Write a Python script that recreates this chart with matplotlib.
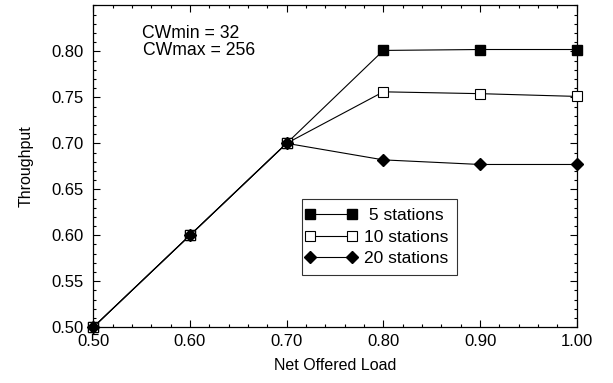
import matplotlib
matplotlib.use("Agg")
import matplotlib.pyplot as plt
from matplotlib.ticker import MultipleLocator, FormatStrFormatter
from matplotlib.legend_handler import HandlerLine2D

plt.rcParams['font.family'] = ['Liberation Sans', 'DejaVu Sans']

# data
load = [0.50, 0.60, 0.70, 0.80, 0.90, 1.00]
st5 = [0.500, 0.600, 0.700, 0.801, 0.802, 0.802]
st10 = [0.500, 0.600, 0.700, 0.756, 0.754, 0.751]
st20 = [0.500, 0.600, 0.700, 0.682, 0.677, 0.677]
labels = [' 5 stations', '10 stations', '20 stations']

fig = plt.figure(figsize=(6.13, 3.83), dpi=100)
ax = fig.add_axes([0.152, 0.1455, 0.789, 0.8405])

l5, = ax.plot(load, st5, color='black', lw=0.8, marker='s', ms=7.5,
              mfc='black', mec='black', label=labels[0], clip_on=False, zorder=3)
l10, = ax.plot(load, st10, color='black', lw=0.8, marker='s', ms=7.5,
               mfc='white', mec='black', mew=0.8, label=labels[1], clip_on=False, zorder=3)
l20, = ax.plot(load, st20, color='black', lw=0.8, marker='D', ms=6,
               mfc='black', mec='black', label=labels[2], clip_on=False, zorder=3)

ax.set_xlim(0.5, 1.0)
ax.set_ylim(0.5, 0.85)
ax.xaxis.set_major_locator(MultipleLocator(0.1))
ax.xaxis.set_minor_locator(MultipleLocator(0.02))
ax.set_yticks([0.50, 0.55, 0.60, 0.65, 0.70, 0.75, 0.80])
ax.yaxis.set_minor_locator(MultipleLocator(0.01))
ax.xaxis.set_major_formatter(FormatStrFormatter('%.2f'))
ax.yaxis.set_major_formatter(FormatStrFormatter('%.2f'))

ax.tick_params(which='both', direction='in', top=True, right=True,
               labelsize=12, width=0.8)
ax.tick_params(axis='x', which='major', pad=5)
ax.tick_params(axis='y', which='major', pad=7)
ax.tick_params(which='major', length=5)
ax.tick_params(which='minor', length=2.5)
for s in ax.spines.values():
    s.set_linewidth(0.9)

ax.set_xlabel('Net Offered Load', fontsize=11.5, labelpad=6)
ax.set_ylabel('Throughput', fontsize=11.5, labelpad=13)

ax.text(0.100, 0.898, 'CWmin = 32', transform=ax.transAxes, fontsize=12.7, va='baseline')
ax.text(0.103, 0.845, 'CWmax = 256', transform=ax.transAxes, fontsize=12.7, va='baseline')

# markers sit right at the ends of the legend line
hmap = {h: HandlerLine2D(marker_pad=0) for h in (l5, l10, l20)}
leg = ax.legend(loc='lower left', bbox_to_anchor=(0.431, 0.162), numpoints=2,
                handler_map=hmap,
                handlelength=2.4, handletextpad=0.7, fontsize=12.5,
                frameon=True, fancybox=False, borderpad=0.5,
                labelspacing=0.37, borderaxespad=0)
leg.get_frame().set_edgecolor('black')
leg.get_frame().set_linewidth(0.8)

fig.savefig('out.png', dpi=100)
